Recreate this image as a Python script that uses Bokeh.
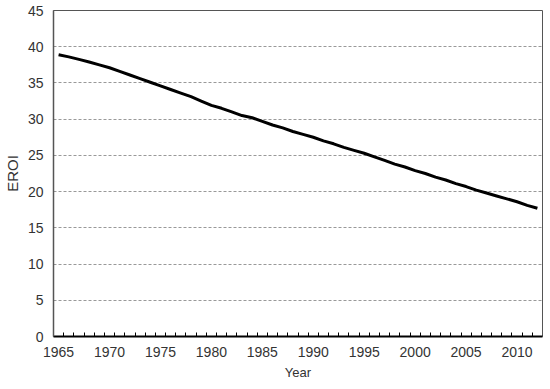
from bokeh.plotting import figure
from bokeh.models import FixedTicker, Range1d
from bokeh.embed import file_html
from bokeh.resources import INLINE

years = list(range(1965, 2013))
eroi = [38.9, 38.6, 38.25, 37.9, 37.5, 37.1, 36.6, 36.1, 35.6, 35.1,
        34.6, 34.1, 33.6, 33.1, 32.5, 31.9, 31.5, 31.0, 30.5, 30.2,
        29.7, 29.2, 28.8, 28.3, 27.9, 27.5, 27.0, 26.6, 26.1, 25.7,
        25.3, 24.8, 24.3, 23.8, 23.4, 22.9, 22.5, 22.0, 21.6, 21.1,
        20.7, 20.2, 19.8, 19.4, 19.0, 18.6, 18.1, 17.7]
x_ticks = list(range(1965, 2011, 5))
y_ticks = list(range(0, 46, 5))

FONT = "Liberation Sans"
TXT = "#333333"

p = figure(frame_width=489, frame_height=326, output_backend="svg", toolbar_location=None,
           x_range=Range1d(1964.5, 2012.5), y_range=Range1d(0, 45),
           min_border_left=46, min_border_right=5, min_border_top=10, min_border_bottom=44)

p.line(years, eroi, line_color="black", line_width=3)

p.outline_line_color = "#555555"
p.outline_line_width = 1
p.background_fill_color = "white"
p.border_fill_color = "white"

xa = p.xaxis[0]
xa.ticker = FixedTicker(ticks=x_ticks, minor_ticks=[y + 0.5 for y in years[:-1]])
xa.major_tick_in = 0
xa.major_tick_out = 0
xa.minor_tick_in = 4
xa.minor_tick_out = 0
xa.minor_tick_line_color = "black"
xa.axis_line_color = "black"
xa.axis_line_width = 2
xa.major_label_text_font = FONT
xa.major_label_text_font_size = "14px"
xa.major_label_text_color = TXT
xa.major_label_standoff = 10
xa.axis_label = "Year"
xa.axis_label_text_font = FONT
xa.axis_label_text_font_size = "13px"
xa.axis_label_text_font_style = "normal"
xa.axis_label_text_color = TXT
xa.axis_label_standoff = 5

ya = p.yaxis[0]
ya.ticker = FixedTicker(ticks=y_ticks)
ya.major_tick_in = 0
ya.major_tick_out = 0
ya.minor_tick_in = 0
ya.minor_tick_out = 0
ya.axis_line_color = "#555555"
ya.axis_line_width = 1.5
ya.major_label_text_font = FONT
ya.major_label_text_font_size = "14px"
ya.major_label_text_color = TXT
ya.major_label_standoff = 10
ya.axis_label = "EROI"
ya.axis_label_text_font = FONT
ya.axis_label_text_font_size = "15px"
ya.axis_label_text_font_style = "normal"
ya.axis_label_text_color = TXT
ya.axis_label_standoff = 4

p.xgrid.visible = False
p.ygrid[0].ticker = FixedTicker(ticks=y_ticks[1:-1])
p.ygrid.grid_line_color = "#999999"
p.ygrid.grid_line_dash = "3 2"
p.ygrid.grid_line_width = 1

open("out.html", "w").write(file_html(p, INLINE))
